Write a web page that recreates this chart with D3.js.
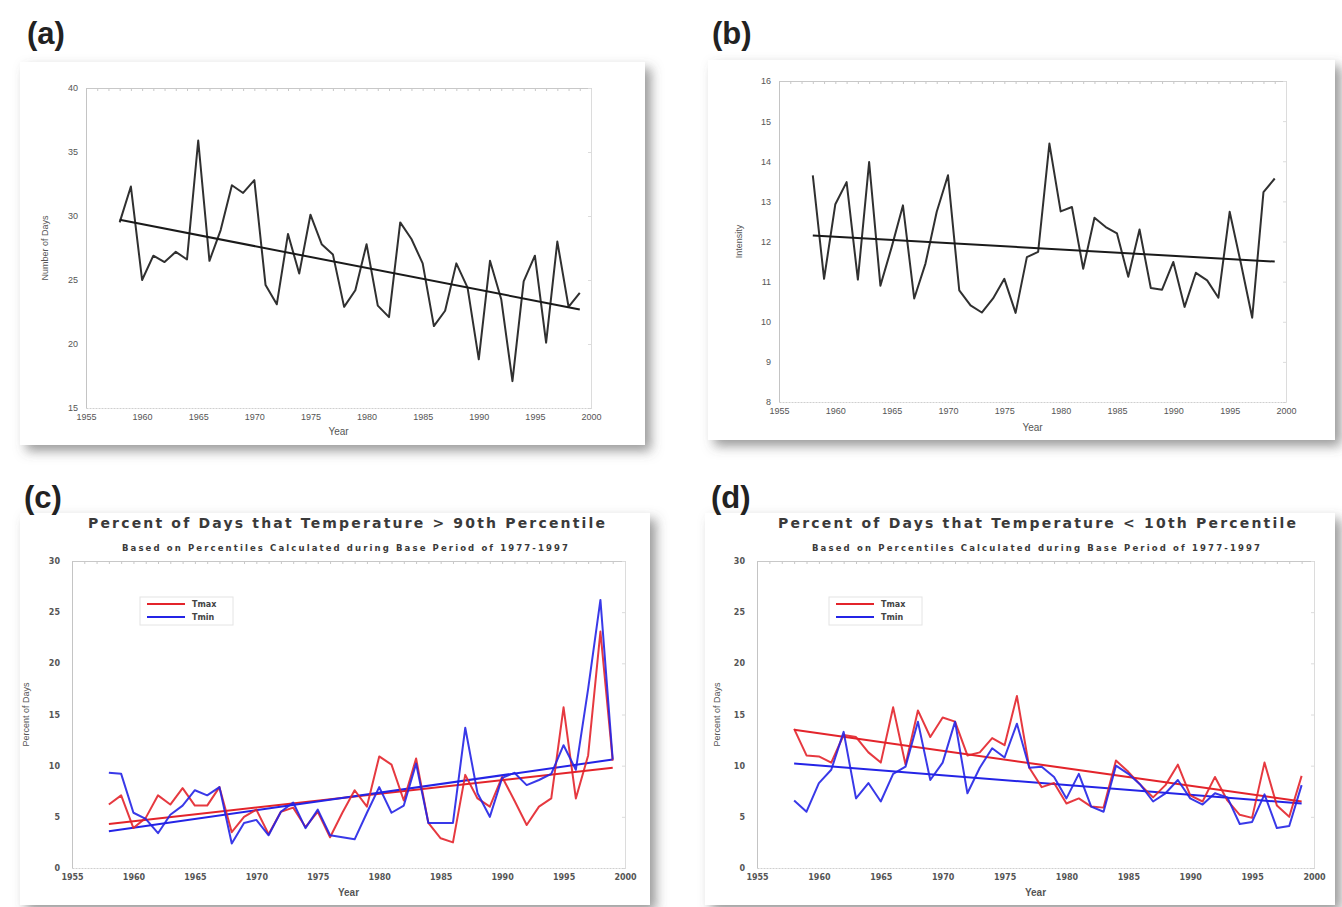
<!DOCTYPE html>
<html>
<head>
<meta charset="utf-8">
<script src="https://cdn.jsdelivr.net/npm/d3@7/dist/d3.min.js"></script>
<style>
  body { margin: 0; background: #fff; }
  svg { display: block; font-family: 'Liberation Sans', Arial, sans-serif; }
</style>
</head>
<body>
<div id="chart"></div>
<script>
const years = [1958, 1959, 1960, 1961, 1962, 1963, 1964, 1965, 1966, 1967,
  1968, 1969, 1970, 1971, 1972, 1973, 1974, 1975, 1976, 1977,
  1978, 1979, 1980, 1981, 1982, 1983, 1984, 1985, 1986, 1987,
  1988, 1989, 1990, 1991, 1992, 1993, 1994, 1995, 1996, 1997,
  1998, 1999]
const trendYears = [1958, 1999]
const xTicks = [1955, 1960, 1965, 1970, 1975, 1980, 1985, 1990, 1995, 2000]

// (a) number of days
const daysA = [29.5, 32.3, 25.0, 26.9, 26.4, 27.2, 26.6, 35.9, 26.5, 28.9,
  32.4, 31.8, 32.8, 24.6, 23.1, 28.6, 25.5, 30.1, 27.8, 27.0,
  22.9, 24.2, 27.8, 23.0, 22.1, 29.5, 28.2, 26.3, 21.4, 22.6,
  26.3, 24.4, 18.8, 26.5, 23.5, 17.1, 24.9, 26.9, 20.1, 28.0,
  22.9, 24.0]
const trendA = [29.7, 22.7]
const yTicksA = [15, 20, 25, 30, 35, 40]

// (b) intensity
const intensityB = [13.65, 11.07, 12.93, 13.48, 11.05, 13.98, 10.9, 11.86, 12.9, 10.58,
  11.45, 12.74, 13.65, 10.78, 10.41, 10.23, 10.58, 11.07, 10.22, 11.61,
  11.74, 14.44, 12.75, 12.86, 11.32, 12.59, 12.36, 12.2, 11.12, 12.3,
  10.84, 10.8, 11.49, 10.37, 11.22, 11.03, 10.6, 12.74, 11.45, 10.1,
  13.23, 13.57]
const trendB = [12.15, 11.5]
const yTicksB = [8, 9, 10, 11, 12, 13, 14, 15, 16]

// (c) > 90th percentile
const tmaxC = [6.2, 7.1, 3.9, 4.9, 7.1, 6.2, 7.8, 6.1, 6.1, 7.9,
  3.5, 5.0, 5.7, 3.3, 5.5, 5.9, 4.0, 5.5, 3.0, 5.4,
  7.6, 6.0, 10.9, 10.1, 6.6, 10.7, 4.4, 2.9, 2.5, 9.1,
  6.8, 6.0, 8.9, 6.6, 4.2, 6.0, 6.8, 15.7, 6.8, 11.0,
  23.1, 10.5]
const tminC = [9.3, 9.2, 5.4, 4.8, 3.4, 5.2, 6.1, 7.6, 7.1, 7.9,
  2.4, 4.4, 4.7, 3.2, 5.5, 6.4, 3.9, 5.7, 3.2, 3.0,
  2.8, 5.4, 7.9, 5.4, 6.1, 10.2, 4.4, 4.4, 4.4, 13.7,
  7.3, 5.0, 8.8, 9.3, 8.1, 8.6, 9.2, 12.0, 9.6, 17.5,
  26.2, 10.6]
const trendTmaxC = [4.3, 9.8]
const trendTminC = [3.6, 10.6]

// (d) < 10th percentile
const tmaxD = [13.6, 11.0, 10.9, 10.3, 13.0, 12.8, 11.3, 10.3, 15.7, 10.1,
  15.4, 12.8, 14.7, 14.3, 11.0, 11.3, 12.7, 12.0, 16.8, 9.8,
  7.9, 8.3, 6.3, 6.8, 6.0, 5.9, 10.5, 9.4, 8.1, 6.9,
  8.1, 10.1, 7.1, 6.5, 8.9, 6.6, 5.2, 4.9, 10.3, 6.1,
  5.0, 9.0]
const tminD = [6.6, 5.5, 8.3, 9.6, 13.3, 6.8, 8.3, 6.5, 9.2, 9.9,
  14.3, 8.6, 10.3, 14.3, 7.3, 9.8, 11.7, 10.8, 14.1, 9.8,
  9.9, 8.9, 6.8, 9.2, 6.0, 5.5, 10.0, 9.2, 8.1, 6.5,
  7.3, 8.6, 6.8, 6.2, 7.3, 6.9, 4.3, 4.5, 7.2, 3.9,
  4.1, 8.1]
const trendTmaxD = [13.5, 6.5]
const trendTminD = [10.2, 6.3]
const yTicksCD = [0, 5, 10, 15, 20, 25, 30]
const legendNames = ['Tmax', 'Tmin']

const RED = '#e3242b'
const BLUE = '#2424e6'
const WIDE = 'DejaVu Sans, Verdana, sans-serif'

const svg = d3.select('#chart').append('svg')
  .attr('width', 1342)
  .attr('height', 907)

const defs = svg.append('defs')
const shadow = defs.append('filter').attr('id', 'shadow')
  .attr('x', '-5%').attr('y', '-5%').attr('width', '115%').attr('height', '120%')
shadow.append('feDropShadow')
  .attr('dx', 6).attr('dy', 6).attr('stdDeviation', 6)
  .attr('flood-color', '#555').attr('flood-opacity', 0.6)

const panels = [
  {
    label: '(a)', labelX: 27, labelY: 44,
    card: [20, 62, 625, 383],
    x: [86, 591], y: [408, 88], yDomain: [15, 40], yTicks: yTicksA,
    yLabel: 'Number of Days', yLabelX: 48, xLabelY: 435,
    series: [{ values: daysA, trend: trendA, color: '#1a1a1a' }]
  },
  {
    label: '(b)', labelX: 712, labelY: 44,
    card: [708, 60, 627, 380],
    x: [779, 1286], y: [402, 81], yDomain: [8, 16], yTicks: yTicksB,
    yLabel: 'Intensity', yLabelX: 742, xLabelY: 431,
    series: [{ values: intensityB, trend: trendB, color: '#1a1a1a' }]
  },
  {
    label: '(c)', labelX: 24, labelY: 508,
    card: [20, 513, 630, 392],
    x: [72, 625], y: [868, 561], yDomain: [0, 30], yTicks: yTicksCD,
    yLabel: 'Percent of Days', yLabelX: 29, xLabelY: 896,
    title: 'Percent of Days that Temperature > 90th Percentile',
    titleX: [88, 605],
    subtitle: 'Based on Percentiles Calculated during Base Period of 1977-1997',
    subtitleX: [122, 568],
    legend: [140, 597],
    series: [
      { values: tmaxC, trend: trendTmaxC, color: RED },
      { values: tminC, trend: trendTminC, color: BLUE }
    ]
  },
  {
    label: '(d)', labelX: 711, labelY: 508,
    card: [705, 513, 630, 392],
    x: [757, 1314], y: [868, 561], yDomain: [0, 30], yTicks: yTicksCD,
    yLabel: 'Percent of Days', yLabelX: 720, xLabelY: 896,
    title: 'Percent of Days that Temperature < 10th Percentile',
    titleX: [778, 1296],
    subtitle: 'Based on Percentiles Calculated during Base Period of 1977-1997',
    subtitleX: [812, 1260],
    legend: [829, 597],
    series: [
      { values: tmaxD, trend: trendTmaxD, color: RED },
      { values: tminD, trend: trendTminD, color: BLUE }
    ]
  }
]

panels.forEach(p => {
  const [cx, cy, cw, ch] = p.card
  svg.append('rect')
    .attr('x', cx).attr('y', cy).attr('width', cw).attr('height', ch)
    .attr('fill', '#fff')
    .attr('filter', 'url(#shadow)')

  svg.append('text')
    .attr('x', p.labelX).attr('y', p.labelY)
    .attr('font-size', 31).attr('font-weight', 'bold')
    .attr('fill', '#222')
    .text(p.label)

  const x = d3.scaleLinear().domain([1955, 2000]).range(p.x)
  const y = d3.scaleLinear().domain(p.yDomain).range(p.y)
  const g = svg.append('g')

  // frame: light ticks on top/right, labelled axes bottom/left
  g.append('g')
    .attr('transform', `translate(0,${p.y[1]})`)
    .call(d3.axisBottom(x).tickValues(d3.range(1955, 2001)).tickSize(3).tickFormat(''))
    .call(a => a.selectAll('line,path').attr('stroke', '#c8c8c8'))
  g.append('g')
    .attr('transform', `translate(${p.x[1]},0)`)
    .call(d3.axisLeft(y).tickValues(p.yTicks).tickSize(3).tickFormat(''))
    .call(a => a.selectAll('line,path').attr('stroke', '#dcdcdc'))

  const cd = !!p.title
  const tickFont = cd ? WIDE : 'Liberation Sans, Arial, sans-serif'
  g.append('g')
    .attr('transform', `translate(0,${p.y[0]})`)
    .call(d3.axisBottom(x).tickValues(xTicks).tickSize(0).tickPadding(6).tickFormat(d3.format('d')))
    .call(a => a.select('.domain').attr('stroke', '#cfcfcf').attr('stroke-dasharray', '2,1'))
    .call(a => a.selectAll('text').attr('font-size', cd ? 8 : 9).attr('fill', '#555')
      .attr('font-weight', cd ? 'bold' : 'normal').attr('font-family', tickFont))
  g.append('g')
    .attr('transform', `translate(${p.x[0]},0)`)
    .call(d3.axisLeft(y).tickValues(p.yTicks).tickSize(0).tickPadding(cd ? 12 : 8))
    .call(a => a.select('.domain').attr('stroke', '#c4c4c4'))
    .call(a => a.selectAll('text').attr('font-size', cd ? 8 : 9).attr('fill', '#555')
      .attr('font-weight', cd ? 'bold' : 'normal').attr('font-family', tickFont))

  // axis labels
  g.append('text')
    .attr('x', (p.x[0] + p.x[1]) / 2).attr('y', p.xLabelY)
    .attr('text-anchor', 'middle').attr('font-size', 10)
    .attr('font-weight', cd ? 'bold' : 'normal').attr('fill', '#555')
    .text('Year')
  g.append('text')
    .attr('transform', `translate(${p.yLabelX},${(p.y[0] + p.y[1]) / 2}) rotate(-90)`)
    .attr('text-anchor', 'middle').attr('font-size', 9)
    .attr('fill', '#555')
    .text(p.yLabel)

  if (cd) {
    g.append('text')
      .attr('x', p.titleX[0]).attr('y', 528)
      .attr('textLength', p.titleX[1] - p.titleX[0]).attr('lengthAdjust', 'spacing')
      .attr('font-family', WIDE)
      .attr('font-size', 14).attr('font-weight', 'bold').attr('fill', '#3a3a3a')
      .text(p.title)
    g.append('text')
      .attr('x', p.subtitleX[0]).attr('y', 551)
      .attr('textLength', p.subtitleX[1] - p.subtitleX[0]).attr('lengthAdjust', 'spacing')
      .attr('font-family', WIDE)
      .attr('font-size', 8.5).attr('font-weight', 'bold').attr('fill', '#3a3a3a')
      .text(p.subtitle)
  }

  const line = d3.line()
    .x((d, i) => x(years[i]))
    .y(d => y(d))
  const trendLine = d3.line()
    .x((d, i) => x(trendYears[i]))
    .y(d => y(d))

  p.series.forEach(s => {
    g.append('path')
      .datum(s.trend)
      .attr('d', trendLine)
      .attr('fill', 'none')
      .attr('stroke', s.color)
      .attr('stroke-width', 2)
  })
  p.series.forEach(s => {
    g.append('path')
      .datum(s.values)
      .attr('d', line)
      .attr('fill', 'none')
      .attr('stroke', s.color)
      .attr('stroke-width', 2)
      .attr('stroke-linejoin', 'round')
      .attr('opacity', 0.9)
  })

  if (p.legend) {
    const [lx, ly] = p.legend
    const lg = g.append('g').attr('transform', `translate(${lx},${ly})`)
    lg.append('rect')
      .attr('width', 93).attr('height', 28)
      .attr('fill', '#fff').attr('stroke', '#e4e4e4')
    lg.selectAll('.item')
      .data(p.series)
      .enter().append('line')
      .attr('x1', 7).attr('x2', 45)
      .attr('y1', (_, i) => 7 + i * 13).attr('y2', (_, i) => 7 + i * 13)
      .attr('stroke', d => d.color).attr('stroke-width', 2)
    lg.selectAll('.lbl')
      .data(legendNames)
      .enter().append('text')
      .attr('x', 52).attr('y', (_, i) => 10 + i * 13)
      .attr('font-family', WIDE)
      .attr('font-size', 8).attr('font-weight', 'bold').attr('fill', '#444')
      .text(d => d)
  }
})
</script>
</body>
</html>
